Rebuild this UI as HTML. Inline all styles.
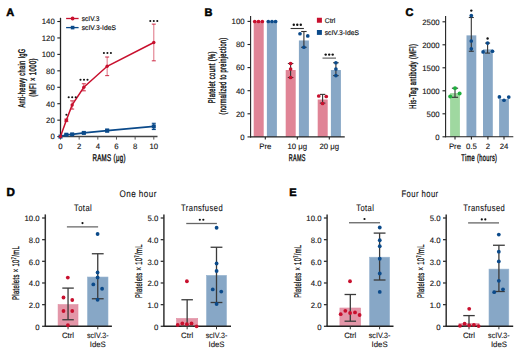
<!DOCTYPE html>
<html><head><meta charset="utf-8"><style>
html,body{margin:0;padding:0;background:#fff;}
body{width:520px;height:354px;overflow:hidden;}
svg{display:block;font-family:"Liberation Sans", sans-serif;text-rendering:geometricPrecision;}
</style></head><body>
<svg width="520" height="354" viewBox="0 0 520 354" xmlns="http://www.w3.org/2000/svg">
<rect x="0" y="0" width="520" height="354" fill="#fff"/>
<text x="6.2" y="15.9" font-size="11" text-anchor="start" font-weight="bold" fill="#000" stroke="#000" stroke-width="0.5">A</text>
<line x1="60.5" y1="17.8" x2="60.5" y2="137.1" stroke="#222" stroke-width="1.3"/>
<line x1="59.8" y1="136.6" x2="157.5" y2="136.6" stroke="#444" stroke-width="1.5"/>
<line x1="57.3" y1="136.6" x2="60.5" y2="136.6" stroke="#222" stroke-width="1.1"/>
<text x="54.8" y="139.4" font-size="7.8" text-anchor="end" font-weight="normal" fill="#111" stroke="#111" stroke-width="0.1">0</text>
<line x1="57.3" y1="120.15799999999999" x2="60.5" y2="120.15799999999999" stroke="#222" stroke-width="1.1"/>
<text x="54.8" y="122.95799999999998" font-size="7.8" text-anchor="end" font-weight="normal" fill="#111" stroke="#111" stroke-width="0.1">20</text>
<line x1="57.3" y1="103.716" x2="60.5" y2="103.716" stroke="#222" stroke-width="1.1"/>
<text x="54.8" y="106.51599999999999" font-size="7.8" text-anchor="end" font-weight="normal" fill="#111" stroke="#111" stroke-width="0.1">40</text>
<line x1="57.3" y1="87.274" x2="60.5" y2="87.274" stroke="#222" stroke-width="1.1"/>
<text x="54.8" y="90.074" font-size="7.8" text-anchor="end" font-weight="normal" fill="#111" stroke="#111" stroke-width="0.1">60</text>
<line x1="57.3" y1="70.832" x2="60.5" y2="70.832" stroke="#222" stroke-width="1.1"/>
<text x="54.8" y="73.63199999999999" font-size="7.8" text-anchor="end" font-weight="normal" fill="#111" stroke="#111" stroke-width="0.1">80</text>
<line x1="57.3" y1="54.389999999999986" x2="60.5" y2="54.389999999999986" stroke="#222" stroke-width="1.1"/>
<text x="54.8" y="57.18999999999998" font-size="7.8" text-anchor="end" font-weight="normal" fill="#111" stroke="#111" stroke-width="0.1">100</text>
<line x1="57.3" y1="37.94799999999999" x2="60.5" y2="37.94799999999999" stroke="#222" stroke-width="1.1"/>
<text x="54.8" y="40.74799999999999" font-size="7.8" text-anchor="end" font-weight="normal" fill="#111" stroke="#111" stroke-width="0.1">120</text>
<line x1="57.3" y1="21.505999999999986" x2="60.5" y2="21.505999999999986" stroke="#222" stroke-width="1.1"/>
<text x="54.8" y="24.305999999999987" font-size="7.8" text-anchor="end" font-weight="normal" fill="#111" stroke="#111" stroke-width="0.1">140</text>
<line x1="60.5" y1="136.6" x2="60.5" y2="139.6" stroke="#555" stroke-width="1.0"/>
<text x="60.5" y="149.3" font-size="7.8" text-anchor="middle" font-weight="normal" fill="#111" stroke="#111" stroke-width="0.1">0</text>
<line x1="79.16" y1="136.6" x2="79.16" y2="139.6" stroke="#555" stroke-width="1.0"/>
<text x="79.16" y="149.3" font-size="7.8" text-anchor="middle" font-weight="normal" fill="#111" stroke="#111" stroke-width="0.1">2</text>
<line x1="97.82" y1="136.6" x2="97.82" y2="139.6" stroke="#555" stroke-width="1.0"/>
<text x="97.82" y="149.3" font-size="7.8" text-anchor="middle" font-weight="normal" fill="#111" stroke="#111" stroke-width="0.1">4</text>
<line x1="116.48" y1="136.6" x2="116.48" y2="139.6" stroke="#555" stroke-width="1.0"/>
<text x="116.48" y="149.3" font-size="7.8" text-anchor="middle" font-weight="normal" fill="#111" stroke="#111" stroke-width="0.1">6</text>
<line x1="135.14" y1="136.6" x2="135.14" y2="139.6" stroke="#555" stroke-width="1.0"/>
<text x="135.14" y="149.3" font-size="7.8" text-anchor="middle" font-weight="normal" fill="#111" stroke="#111" stroke-width="0.1">8</text>
<line x1="153.8" y1="136.6" x2="153.8" y2="139.6" stroke="#555" stroke-width="1.0"/>
<text x="153.8" y="149.3" font-size="7.8" text-anchor="middle" font-weight="normal" fill="#111" stroke="#111" stroke-width="0.1">10</text>
<text transform="translate(24.7,78.0) rotate(-90)" x="0" y="0" font-size="9.7" text-anchor="middle" font-weight="normal" fill="#111" textLength="59.2" lengthAdjust="spacingAndGlyphs" letter-spacing="0.55" stroke="#111" stroke-width="0.4">Anti-heavy chain IgG</text>
<text transform="translate(35.5,77.4) rotate(-90)" x="0" y="0" font-size="9.7" text-anchor="middle" font-weight="normal" fill="#111" textLength="38.7" lengthAdjust="spacingAndGlyphs" letter-spacing="0.55" stroke="#111" stroke-width="0.4">(MFI &#215; 1000)</text>
<text x="109.2" y="160.8" font-size="9.7" text-anchor="middle" font-weight="normal" fill="#111" textLength="33.6" lengthAdjust="spacingAndGlyphs" letter-spacing="0.55" stroke="#111" stroke-width="0.4">RAMS (&#956;g)</text>
<line x1="66.1" y1="18.5" x2="78.6" y2="18.5" stroke="#c8102e" stroke-width="1.3"/>
<circle cx="72.6" cy="18.5" r="1.9" fill="#c8102e"/>
<text x="81.75" y="21.0" font-size="6.8" text-anchor="start" font-weight="normal" fill="#111" textLength="17.75" lengthAdjust="spacingAndGlyphs" stroke="#111" stroke-width="0.15">scIV.3</text>
<line x1="66.1" y1="27.6" x2="78.6" y2="27.6" stroke="#0b4a8a" stroke-width="1.3"/>
<rect x="70.8" y="25.8" width="3.6" height="3.6" fill="#0b4a8a"/>
<text x="81.75" y="30.0" font-size="6.8" text-anchor="start" font-weight="normal" fill="#111" textLength="34.25" lengthAdjust="spacingAndGlyphs" stroke="#111" stroke-width="0.15">scIV.3-IdeS</text>
<polyline fill="none" stroke="#0b4a8a" stroke-width="1.6" points="60.50,136.60 66.33,134.71 72.16,134.38 83.83,132.90 107.15,130.60 153.80,126.41"/>
<rect x="58.5" y="134.6" width="4" height="4" fill="#0b4a8a"/>
<line x1="66.33125" y1="135.36685" x2="66.33125" y2="134.05149" stroke="#0b4a8a" stroke-width="1.3"/>
<line x1="64.33125" y1="134.05149" x2="68.33125" y2="134.05149" stroke="#0b4a8a" stroke-width="1.1"/>
<line x1="64.33125" y1="135.36685" x2="68.33125" y2="135.36685" stroke="#0b4a8a" stroke-width="1.1"/>
<rect x="64.33125" y="132.70917" width="4" height="4" fill="#0b4a8a"/>
<line x1="72.1625" y1="135.03800999999999" x2="72.1625" y2="133.72265" stroke="#0b4a8a" stroke-width="1.3"/>
<line x1="70.1625" y1="133.72265" x2="74.1625" y2="133.72265" stroke="#0b4a8a" stroke-width="1.1"/>
<line x1="70.1625" y1="135.03800999999999" x2="74.1625" y2="135.03800999999999" stroke="#0b4a8a" stroke-width="1.1"/>
<rect x="70.1625" y="132.38033" width="4" height="4" fill="#0b4a8a"/>
<line x1="83.825" y1="133.72265" x2="83.825" y2="132.07845" stroke="#0b4a8a" stroke-width="1.3"/>
<line x1="81.825" y1="132.07845" x2="85.825" y2="132.07845" stroke="#0b4a8a" stroke-width="1.1"/>
<line x1="81.825" y1="133.72265" x2="85.825" y2="133.72265" stroke="#0b4a8a" stroke-width="1.1"/>
<rect x="81.825" y="130.90054999999998" width="4" height="4" fill="#0b4a8a"/>
<line x1="107.15" y1="131.91403" x2="107.15" y2="129.28331" stroke="#0b4a8a" stroke-width="1.3"/>
<line x1="105.15" y1="129.28331" x2="109.15" y2="129.28331" stroke="#0b4a8a" stroke-width="1.1"/>
<line x1="105.15" y1="131.91403" x2="109.15" y2="131.91403" stroke="#0b4a8a" stroke-width="1.1"/>
<rect x="105.15" y="128.59867" width="4" height="4" fill="#0b4a8a"/>
<line x1="153.8" y1="129.52993999999998" x2="153.8" y2="123.28197999999999" stroke="#0b4a8a" stroke-width="1.3"/>
<line x1="151.8" y1="123.28197999999999" x2="155.8" y2="123.28197999999999" stroke="#0b4a8a" stroke-width="1.1"/>
<line x1="151.8" y1="129.52993999999998" x2="155.8" y2="129.52993999999998" stroke="#0b4a8a" stroke-width="1.1"/>
<rect x="151.8" y="124.40596" width="4" height="4" fill="#0b4a8a"/>
<polyline fill="none" stroke="#c8102e" stroke-width="1.5" points="60.50,136.60 66.33,120.32 72.16,104.95 83.83,87.27 107.15,66.31 153.80,42.47"/>
<circle cx="60.5" cy="136.6" r="1.7" fill="#c8102e"/>
<line x1="66.33125" y1="121.55556999999999" x2="66.33125" y2="119.08927" stroke="#c8102e" stroke-width="1.0" stroke-opacity="0.6"/>
<line x1="64.33125" y1="119.08927" x2="68.33125" y2="119.08927" stroke="#c8102e" stroke-width="1.1" stroke-opacity="0.8"/>
<line x1="64.33125" y1="121.55556999999999" x2="68.33125" y2="121.55556999999999" stroke="#c8102e" stroke-width="1.1" stroke-opacity="0.8"/>
<circle cx="66.33125" cy="120.32242" r="1.7" fill="#c8102e"/>
<line x1="72.1625" y1="109.05964999999999" x2="72.1625" y2="100.83865" stroke="#c8102e" stroke-width="1.0" stroke-opacity="0.6"/>
<line x1="70.1625" y1="100.83865" x2="74.1625" y2="100.83865" stroke="#c8102e" stroke-width="1.1" stroke-opacity="0.8"/>
<line x1="70.1625" y1="109.05964999999999" x2="74.1625" y2="109.05964999999999" stroke="#c8102e" stroke-width="1.1" stroke-opacity="0.8"/>
<circle cx="72.1625" cy="104.94914999999999" r="1.7" fill="#c8102e"/>
<line x1="83.825" y1="90.80902999999998" x2="83.825" y2="83.73897" stroke="#c8102e" stroke-width="1.0" stroke-opacity="0.6"/>
<line x1="81.825" y1="83.73897" x2="85.825" y2="83.73897" stroke="#c8102e" stroke-width="1.1" stroke-opacity="0.8"/>
<line x1="81.825" y1="90.80902999999998" x2="85.825" y2="90.80902999999998" stroke="#c8102e" stroke-width="1.1" stroke-opacity="0.8"/>
<circle cx="83.825" cy="87.274" r="1.7" fill="#c8102e"/>
<line x1="107.15" y1="75.60018" x2="107.15" y2="57.02072" stroke="#c8102e" stroke-width="1.0" stroke-opacity="0.6"/>
<line x1="105.15" y1="57.02072" x2="109.15" y2="57.02072" stroke="#c8102e" stroke-width="1.1" stroke-opacity="0.8"/>
<line x1="105.15" y1="75.60018" x2="109.15" y2="75.60018" stroke="#c8102e" stroke-width="1.1" stroke-opacity="0.8"/>
<circle cx="107.15" cy="66.31044999999999" r="1.7" fill="#c8102e"/>
<line x1="153.8" y1="60.802379999999985" x2="153.8" y2="24.136719999999983" stroke="#c8102e" stroke-width="1.0" stroke-opacity="0.6"/>
<line x1="151.8" y1="24.136719999999983" x2="155.8" y2="24.136719999999983" stroke="#c8102e" stroke-width="1.1" stroke-opacity="0.8"/>
<line x1="151.8" y1="60.802379999999985" x2="155.8" y2="60.802379999999985" stroke="#c8102e" stroke-width="1.1" stroke-opacity="0.8"/>
<circle cx="153.8" cy="42.469549999999984" r="1.7" fill="#c8102e"/>
<circle cx="66.40" cy="114.7" r="1.05" fill="#111"/>
<circle cx="68.70" cy="97.25" r="1.05" fill="#111"/>
<circle cx="72.20" cy="97.25" r="1.05" fill="#111"/>
<circle cx="75.70" cy="97.25" r="1.05" fill="#111"/>
<circle cx="80.50" cy="79.75" r="1.05" fill="#111"/>
<circle cx="84.00" cy="79.75" r="1.05" fill="#111"/>
<circle cx="87.50" cy="79.75" r="1.05" fill="#111"/>
<circle cx="103.90" cy="53.0" r="1.05" fill="#111"/>
<circle cx="107.40" cy="53.0" r="1.05" fill="#111"/>
<circle cx="110.90" cy="53.0" r="1.05" fill="#111"/>
<circle cx="150.30" cy="21.0" r="1.05" fill="#111"/>
<circle cx="153.80" cy="21.0" r="1.05" fill="#111"/>
<circle cx="157.30" cy="21.0" r="1.05" fill="#111"/>
<text x="204.6" y="15.6" font-size="11" text-anchor="start" font-weight="bold" fill="#000" stroke="#000" stroke-width="0.5">B</text>
<rect x="253.70000000000002" y="21.400000000000006" width="10" height="115.5" fill="#e08496"/>
<rect x="266.90000000000003" y="21.400000000000006" width="10" height="115.5" fill="#87a7c6"/>
<rect x="285.7" y="70.02550000000001" width="10" height="66.8745" fill="#e08496"/>
<rect x="298.90000000000003" y="40.45750000000001" width="10" height="96.4425" fill="#87a7c6"/>
<rect x="317.7" y="99.47800000000001" width="10" height="37.422" fill="#e08496"/>
<rect x="330.90000000000003" y="70.02550000000001" width="10" height="66.8745" fill="#87a7c6"/>
<line x1="250.6" y1="16.0" x2="250.6" y2="137.4" stroke="#222" stroke-width="1.1"/>
<line x1="250.1" y1="136.9" x2="344.75" y2="136.9" stroke="#222" stroke-width="1.1"/>
<line x1="247.5" y1="136.9" x2="250.6" y2="136.9" stroke="#222" stroke-width="1.1"/>
<text x="244.6" y="139.70000000000002" font-size="7.8" text-anchor="end" font-weight="normal" fill="#111" stroke="#111" stroke-width="0.1">0</text>
<line x1="247.5" y1="113.80000000000001" x2="250.6" y2="113.80000000000001" stroke="#222" stroke-width="1.1"/>
<text x="244.6" y="116.60000000000001" font-size="7.8" text-anchor="end" font-weight="normal" fill="#111" stroke="#111" stroke-width="0.1">20</text>
<line x1="247.5" y1="90.7" x2="250.6" y2="90.7" stroke="#222" stroke-width="1.1"/>
<text x="244.6" y="93.5" font-size="7.8" text-anchor="end" font-weight="normal" fill="#111" stroke="#111" stroke-width="0.1">40</text>
<line x1="247.5" y1="67.60000000000001" x2="250.6" y2="67.60000000000001" stroke="#222" stroke-width="1.1"/>
<text x="244.6" y="70.4" font-size="7.8" text-anchor="end" font-weight="normal" fill="#111" stroke="#111" stroke-width="0.1">60</text>
<line x1="247.5" y1="44.5" x2="250.6" y2="44.5" stroke="#222" stroke-width="1.1"/>
<text x="244.6" y="47.3" font-size="7.8" text-anchor="end" font-weight="normal" fill="#111" stroke="#111" stroke-width="0.1">80</text>
<line x1="247.5" y1="21.400000000000006" x2="250.6" y2="21.400000000000006" stroke="#222" stroke-width="1.1"/>
<text x="244.6" y="24.200000000000006" font-size="7.8" text-anchor="end" font-weight="normal" fill="#111" stroke="#111" stroke-width="0.1">100</text>
<line x1="265.3" y1="136.9" x2="265.3" y2="139.6" stroke="#222" stroke-width="1.1"/>
<text x="265.3" y="149.1" font-size="7.8" text-anchor="middle" font-weight="normal" fill="#111" stroke="#111" stroke-width="0.1">Pre</text>
<line x1="297.3" y1="136.9" x2="297.3" y2="139.6" stroke="#222" stroke-width="1.1"/>
<text x="297.3" y="149.1" font-size="7.8" text-anchor="middle" font-weight="normal" fill="#111" stroke="#111" stroke-width="0.1">10 &#956;g</text>
<line x1="329.3" y1="136.9" x2="329.3" y2="139.6" stroke="#222" stroke-width="1.1"/>
<text x="329.3" y="149.1" font-size="7.8" text-anchor="middle" font-weight="normal" fill="#111" stroke="#111" stroke-width="0.1">20 &#956;g</text>
<text x="297.2" y="160.6" font-size="9.7" text-anchor="middle" font-weight="normal" fill="#111" textLength="16.9" lengthAdjust="spacingAndGlyphs" letter-spacing="0.55" stroke="#111" stroke-width="0.4">RAMS</text>
<text transform="translate(215.0,77.2) rotate(-90)" x="0" y="0" font-size="9.7" text-anchor="middle" font-weight="normal" fill="#111" textLength="52.0" lengthAdjust="spacingAndGlyphs" letter-spacing="0.55" stroke="#111" stroke-width="0.4">Platelet count (%)</text>
<text transform="translate(226.0,76.0) rotate(-90)" x="0" y="0" font-size="9.7" text-anchor="middle" font-weight="normal" fill="#111" textLength="77.0" lengthAdjust="spacingAndGlyphs" letter-spacing="0.55" stroke="#111" stroke-width="0.4">(normalized to preinjection)</text>
<line x1="290.6" y1="63.5" x2="290.6" y2="77.5" stroke="#333" stroke-width="1.1"/>
<line x1="287.85" y1="63.5" x2="293.35" y2="63.5" stroke="#333" stroke-width="1.1"/>
<line x1="287.85" y1="77.5" x2="293.35" y2="77.5" stroke="#333" stroke-width="1.1"/>
<line x1="303.9" y1="31.5" x2="303.9" y2="47.3" stroke="#333" stroke-width="1.1"/>
<line x1="301.15" y1="31.5" x2="306.65" y2="31.5" stroke="#333" stroke-width="1.1"/>
<line x1="301.15" y1="47.3" x2="306.65" y2="47.3" stroke="#333" stroke-width="1.1"/>
<line x1="322.6" y1="94.4" x2="322.6" y2="103.1" stroke="#333" stroke-width="1.1"/>
<line x1="319.85" y1="94.4" x2="325.35" y2="94.4" stroke="#333" stroke-width="1.1"/>
<line x1="319.85" y1="103.1" x2="325.35" y2="103.1" stroke="#333" stroke-width="1.1"/>
<line x1="335.9" y1="62.75" x2="335.9" y2="75.6" stroke="#333" stroke-width="1.1"/>
<line x1="333.15" y1="62.75" x2="338.65" y2="62.75" stroke="#333" stroke-width="1.1"/>
<line x1="333.15" y1="75.6" x2="338.65" y2="75.6" stroke="#333" stroke-width="1.1"/>
<circle cx="254.75" cy="21.5" r="1.85" fill="#c8102e"/>
<circle cx="258.5" cy="21.5" r="1.85" fill="#c8102e"/>
<circle cx="262.3" cy="21.5" r="1.85" fill="#c8102e"/>
<circle cx="268.3" cy="21.5" r="1.85" fill="#0b4a8a"/>
<circle cx="272.0" cy="21.5" r="1.85" fill="#0b4a8a"/>
<circle cx="275.6" cy="21.5" r="1.85" fill="#0b4a8a"/>
<circle cx="290.6" cy="63.5" r="1.85" fill="#c8102e"/>
<circle cx="290.6" cy="69" r="1.85" fill="#c8102e"/>
<circle cx="290.6" cy="77.5" r="1.85" fill="#c8102e"/>
<circle cx="300" cy="33.75" r="1.85" fill="#0b4a8a"/>
<circle cx="307.75" cy="35.9" r="1.85" fill="#0b4a8a"/>
<circle cx="303.9" cy="47.25" r="1.85" fill="#0b4a8a"/>
<circle cx="318.75" cy="96" r="1.85" fill="#c8102e"/>
<circle cx="326.25" cy="96.5" r="1.85" fill="#c8102e"/>
<circle cx="322.6" cy="103.5" r="1.85" fill="#c8102e"/>
<circle cx="335.9" cy="62.75" r="1.85" fill="#0b4a8a"/>
<circle cx="335.9" cy="69" r="1.85" fill="#0b4a8a"/>
<circle cx="335.9" cy="75.6" r="1.85" fill="#0b4a8a"/>
<line x1="290.6" y1="28.5" x2="303.9" y2="28.5" stroke="#333" stroke-width="1.1"/>
<circle cx="293.80" cy="24.75" r="1.2" fill="#111"/>
<circle cx="297.30" cy="24.75" r="1.2" fill="#111"/>
<circle cx="300.80" cy="24.75" r="1.2" fill="#111"/>
<line x1="322.5" y1="58.1" x2="336.0" y2="58.1" stroke="#555" stroke-width="1.1"/>
<circle cx="325.70" cy="54.6" r="1.2" fill="#111"/>
<circle cx="329.20" cy="54.6" r="1.2" fill="#111"/>
<circle cx="332.70" cy="54.6" r="1.2" fill="#111"/>
<rect x="316.9" y="17.75" width="5" height="5" fill="#c8102e"/>
<rect x="316.9" y="30.0" width="5" height="4.9" fill="#0b4a8a"/>
<text x="324.75" y="22.6" font-size="6.8" text-anchor="start" font-weight="normal" fill="#111" stroke="#111" stroke-width="0.15">Ctrl</text>
<text x="324.75" y="34.7" font-size="6.8" text-anchor="start" font-weight="normal" fill="#111" textLength="34.25" lengthAdjust="spacingAndGlyphs" stroke="#111" stroke-width="0.15">scIV.3-IdeS</text>
<text x="405.6" y="15.6" font-size="11" text-anchor="start" font-weight="bold" fill="#000" stroke="#000" stroke-width="0.5">C</text>
<rect x="450.1" y="93.10000000000002" width="9.8" height="43.69999999999999" fill="#9fd8a0"/>
<rect x="466.5" y="35.37000000000002" width="9.8" height="101.42999999999999" fill="#87a7c6"/>
<rect x="483.0" y="49.40000000000002" width="9.8" height="87.39999999999999" fill="#87a7c6"/>
<rect x="499.1" y="98.98800000000001" width="9.8" height="37.812" fill="#87a7c6"/>
<line x1="445.6" y1="16.0" x2="445.6" y2="137.3" stroke="#222" stroke-width="1.1"/>
<line x1="445.1" y1="136.8" x2="513.3" y2="136.8" stroke="#222" stroke-width="1.1"/>
<line x1="442.5" y1="136.8" x2="445.6" y2="136.8" stroke="#222" stroke-width="1.1"/>
<text x="439.6" y="139.8" font-size="7.8" text-anchor="end" font-weight="normal" fill="#111" stroke="#111" stroke-width="0.1">0</text>
<line x1="442.5" y1="113.80000000000001" x2="445.6" y2="113.80000000000001" stroke="#222" stroke-width="1.1"/>
<text x="439.6" y="116.80000000000001" font-size="7.8" text-anchor="end" font-weight="normal" fill="#111" stroke="#111" stroke-width="0.1">500</text>
<line x1="442.5" y1="90.80000000000001" x2="445.6" y2="90.80000000000001" stroke="#222" stroke-width="1.1"/>
<text x="439.6" y="93.80000000000001" font-size="7.8" text-anchor="end" font-weight="normal" fill="#111" stroke="#111" stroke-width="0.1">1000</text>
<line x1="442.5" y1="67.80000000000001" x2="445.6" y2="67.80000000000001" stroke="#222" stroke-width="1.1"/>
<text x="439.6" y="70.80000000000001" font-size="7.8" text-anchor="end" font-weight="normal" fill="#111" stroke="#111" stroke-width="0.1">1500</text>
<line x1="442.5" y1="44.80000000000001" x2="445.6" y2="44.80000000000001" stroke="#222" stroke-width="1.1"/>
<text x="439.6" y="47.80000000000001" font-size="7.8" text-anchor="end" font-weight="normal" fill="#111" stroke="#111" stroke-width="0.1">2000</text>
<line x1="442.5" y1="21.80000000000001" x2="445.6" y2="21.80000000000001" stroke="#222" stroke-width="1.1"/>
<text x="439.6" y="24.80000000000001" font-size="7.8" text-anchor="end" font-weight="normal" fill="#111" stroke="#111" stroke-width="0.1">2500</text>
<line x1="455" y1="136.8" x2="455" y2="139.6" stroke="#222" stroke-width="1.1"/>
<text x="455" y="149.2" font-size="7.8" text-anchor="middle" font-weight="normal" fill="#111" stroke="#111" stroke-width="0.1">Pre</text>
<line x1="471.4" y1="136.8" x2="471.4" y2="139.6" stroke="#222" stroke-width="1.1"/>
<text x="471.4" y="149.2" font-size="7.8" text-anchor="middle" font-weight="normal" fill="#111" stroke="#111" stroke-width="0.1">0.5</text>
<line x1="487.9" y1="136.8" x2="487.9" y2="139.6" stroke="#222" stroke-width="1.1"/>
<text x="487.9" y="149.2" font-size="7.8" text-anchor="middle" font-weight="normal" fill="#111" stroke="#111" stroke-width="0.1">2</text>
<line x1="504" y1="136.8" x2="504" y2="139.6" stroke="#222" stroke-width="1.1"/>
<text x="504" y="149.2" font-size="7.8" text-anchor="middle" font-weight="normal" fill="#111" stroke="#111" stroke-width="0.1">24</text>
<text x="479.3" y="160.6" font-size="9.7" text-anchor="middle" font-weight="normal" fill="#111" textLength="36" lengthAdjust="spacingAndGlyphs" letter-spacing="0.55" stroke="#111" stroke-width="0.4">Time (hours)</text>
<text transform="translate(415.8,76.3) rotate(-90)" x="0" y="0" font-size="9.7" text-anchor="middle" font-weight="normal" fill="#111" textLength="65.0" lengthAdjust="spacingAndGlyphs" letter-spacing="0.55" stroke="#111" stroke-width="0.4">His-Tag antibody (MFI)</text>
<line x1="455" y1="88.2" x2="455" y2="97.3" stroke="#333" stroke-width="1.1"/>
<line x1="451.9" y1="88.2" x2="458.1" y2="88.2" stroke="#333" stroke-width="1.1"/>
<line x1="451.9" y1="97.3" x2="458.1" y2="97.3" stroke="#333" stroke-width="1.1"/>
<line x1="471.3" y1="17.5" x2="471.3" y2="51.25" stroke="#333" stroke-width="1.1"/>
<line x1="468.8" y1="17.5" x2="473.8" y2="17.5" stroke="#333" stroke-width="1.1"/>
<line x1="468.8" y1="51.25" x2="473.8" y2="51.25" stroke="#333" stroke-width="1.1"/>
<line x1="487.6" y1="43.1" x2="487.6" y2="53.1" stroke="#333" stroke-width="1.1"/>
<line x1="485.1" y1="43.1" x2="490.1" y2="43.1" stroke="#333" stroke-width="1.1"/>
<line x1="485.1" y1="53.1" x2="490.1" y2="53.1" stroke="#333" stroke-width="1.1"/>
<circle cx="455" cy="88.2" r="2.0" fill="#1fae3e"/>
<circle cx="450.2" cy="96.4" r="2.0" fill="#1fae3e"/>
<circle cx="459.6" cy="93.6" r="2.0" fill="#1fae3e"/>
<circle cx="471.3" cy="15.6" r="1.85" fill="#0b4a8a"/>
<circle cx="471.3" cy="41" r="1.85" fill="#0b4a8a"/>
<circle cx="471.3" cy="48.75" r="1.85" fill="#0b4a8a"/>
<circle cx="487.6" cy="43.1" r="1.85" fill="#0b4a8a"/>
<circle cx="483.1" cy="51.9" r="1.85" fill="#0b4a8a"/>
<circle cx="492.5" cy="51.25" r="1.85" fill="#0b4a8a"/>
<circle cx="499.4" cy="96.9" r="1.85" fill="#0b4a8a"/>
<circle cx="504" cy="100.25" r="1.85" fill="#0b4a8a"/>
<circle cx="508.75" cy="97.1" r="1.85" fill="#0b4a8a"/>
<circle cx="471.30" cy="10.6" r="1.2" fill="#111"/>
<circle cx="487.60" cy="38.5" r="1.2" fill="#111"/>
<text x="6.5" y="196.1" font-size="11.6" text-anchor="start" font-weight="bold" fill="#000" stroke="#000" stroke-width="0.5">D</text>
<text x="138.2" y="196.5" font-size="9.6" text-anchor="middle" font-weight="normal" fill="#111" textLength="37.3" lengthAdjust="spacingAndGlyphs" letter-spacing="0.55" stroke="#111" stroke-width="0.12">One hour</text>
<text x="289.2" y="196.1" font-size="11" text-anchor="start" font-weight="bold" fill="#000" stroke="#000" stroke-width="0.5">E</text>
<text x="420.0" y="196.5" font-size="9.6" text-anchor="middle" font-weight="normal" fill="#111" textLength="37.2" lengthAdjust="spacingAndGlyphs" letter-spacing="0.55" stroke="#111" stroke-width="0.12">Four hour</text>
<rect x="58.1" y="304.64" width="19.9" height="21.660000000000025" fill="#e396a8" stroke="#e08aa0" stroke-width="0.6"/>
<rect x="87.5" y="277.0235" width="20.5" height="49.2765" fill="#87a7c6" stroke="#95b2cf" stroke-width="0.6"/>
<line x1="45.3" y1="214.4" x2="45.3" y2="327.0" stroke="#333" stroke-width="1.5"/>
<line x1="44.599999999999994" y1="326.3" x2="111.9" y2="326.3" stroke="#222" stroke-width="1.5"/>
<line x1="42.099999999999994" y1="326.3" x2="45.3" y2="326.3" stroke="#333" stroke-width="1.3"/>
<text x="39.699999999999996" y="329.6" font-size="7.8" text-anchor="end" font-weight="normal" fill="#111" stroke="#111" stroke-width="0.1">0</text>
<line x1="42.099999999999994" y1="304.64" x2="45.3" y2="304.64" stroke="#333" stroke-width="1.3"/>
<text x="39.699999999999996" y="307.94" font-size="7.8" text-anchor="end" font-weight="normal" fill="#111" stroke="#111" stroke-width="0.1">2.0</text>
<line x1="42.099999999999994" y1="282.98" x2="45.3" y2="282.98" stroke="#333" stroke-width="1.3"/>
<text x="39.699999999999996" y="286.28000000000003" font-size="7.8" text-anchor="end" font-weight="normal" fill="#111" stroke="#111" stroke-width="0.1">4.0</text>
<line x1="42.099999999999994" y1="261.32" x2="45.3" y2="261.32" stroke="#333" stroke-width="1.3"/>
<text x="39.699999999999996" y="264.62" font-size="7.8" text-anchor="end" font-weight="normal" fill="#111" stroke="#111" stroke-width="0.1">6.0</text>
<line x1="42.099999999999994" y1="239.66000000000003" x2="45.3" y2="239.66000000000003" stroke="#333" stroke-width="1.3"/>
<text x="39.699999999999996" y="242.96000000000004" font-size="7.8" text-anchor="end" font-weight="normal" fill="#111" stroke="#111" stroke-width="0.1">8.0</text>
<line x1="42.099999999999994" y1="218.0" x2="45.3" y2="218.0" stroke="#333" stroke-width="1.3"/>
<text x="39.699999999999996" y="221.3" font-size="7.8" text-anchor="end" font-weight="normal" fill="#111" stroke="#111" stroke-width="0.1">10.0</text>
<line x1="68.05" y1="326.3" x2="68.05" y2="329.3" stroke="#333" stroke-width="1.0"/>
<line x1="97.75" y1="326.3" x2="97.75" y2="329.3" stroke="#333" stroke-width="1.0"/>
<text x="68.05" y="337.5" font-size="7.8" text-anchor="middle" font-weight="normal" fill="#111" stroke="#111" stroke-width="0.1">Ctrl</text>
<text x="97.75" y="337.5" font-size="7.8" text-anchor="middle" font-weight="normal" fill="#111" textLength="21.6" lengthAdjust="spacingAndGlyphs" stroke="#111" stroke-width="0.1">scIV.3-</text>
<text x="97.75" y="347.2" font-size="7.8" text-anchor="middle" font-weight="normal" fill="#111" stroke="#111" stroke-width="0.1">IdeS</text>
<line x1="68.05" y1="288.1" x2="68.05" y2="319.75" stroke="#3a3a3a" stroke-width="1.3"/>
<line x1="62.3" y1="288.1" x2="73.8" y2="288.1" stroke="#3a3a3a" stroke-width="1.3"/>
<line x1="62.3" y1="319.75" x2="73.8" y2="319.75" stroke="#3a3a3a" stroke-width="1.3"/>
<line x1="97.75" y1="253.75" x2="97.75" y2="298.75" stroke="#3a3a3a" stroke-width="1.3"/>
<line x1="91.85" y1="253.75" x2="103.65" y2="253.75" stroke="#3a3a3a" stroke-width="1.3"/>
<line x1="91.85" y1="298.75" x2="103.65" y2="298.75" stroke="#3a3a3a" stroke-width="1.3"/>
<circle cx="67.8" cy="277.6" r="1.9" fill="#c8102e"/>
<circle cx="63.5" cy="297.5" r="1.9" fill="#c8102e"/>
<circle cx="72.25" cy="300" r="1.9" fill="#c8102e"/>
<circle cx="63.5" cy="311" r="1.9" fill="#c8102e"/>
<circle cx="72.25" cy="311" r="1.9" fill="#c8102e"/>
<circle cx="67.9" cy="325.25" r="1.9" fill="#c8102e"/>
<circle cx="97.6" cy="234" r="1.9" fill="#0b4a8a"/>
<circle cx="97.6" cy="272.5" r="1.9" fill="#0b4a8a"/>
<circle cx="97.6" cy="277.5" r="1.9" fill="#0b4a8a"/>
<circle cx="93.3" cy="284.4" r="1.9" fill="#0b4a8a"/>
<circle cx="102.1" cy="288.75" r="1.9" fill="#0b4a8a"/>
<circle cx="97.6" cy="299.75" r="1.9" fill="#0b4a8a"/>
<line x1="66.9" y1="226.9" x2="98.1" y2="226.9" stroke="#666" stroke-width="1.3"/>
<circle cx="82.50" cy="223.1" r="1.1" fill="#111"/>
<text x="83.1" y="211.0" font-size="9.4" text-anchor="middle" font-weight="normal" fill="#111" textLength="18.25" lengthAdjust="spacingAndGlyphs" letter-spacing="0.55" stroke="#111" stroke-width="0.12">Total</text>
<text transform="translate(19.0,272.9) rotate(-90)" x="0" y="0" font-size="9.7" text-anchor="middle" font-weight="normal" fill="#111" textLength="54.2" lengthAdjust="spacingAndGlyphs" letter-spacing="0.55" stroke="#111" stroke-width="0.3">Platelets &#215; 10<tspan font-size="6.6" dy="-3.2">7</tspan><tspan dy="3.2">/mL</tspan></text>
<rect x="176.6" y="318.5024" width="21.099999999999994" height="7.7975999999999885" fill="#e396a8" stroke="#e08aa0" stroke-width="0.6"/>
<rect x="206.5" y="275.399" width="20.0" height="50.90100000000001" fill="#87a7c6" stroke="#95b2cf" stroke-width="0.6"/>
<line x1="163.9" y1="214.4" x2="163.9" y2="327.0" stroke="#333" stroke-width="1.5"/>
<line x1="163.20000000000002" y1="326.3" x2="231.0" y2="326.3" stroke="#222" stroke-width="1.5"/>
<line x1="160.70000000000002" y1="326.3" x2="163.9" y2="326.3" stroke="#333" stroke-width="1.3"/>
<text x="158.3" y="329.6" font-size="7.8" text-anchor="end" font-weight="normal" fill="#111" stroke="#111" stroke-width="0.1">0</text>
<line x1="160.70000000000002" y1="304.64" x2="163.9" y2="304.64" stroke="#333" stroke-width="1.3"/>
<text x="158.3" y="307.94" font-size="7.8" text-anchor="end" font-weight="normal" fill="#111" stroke="#111" stroke-width="0.1">1.0</text>
<line x1="160.70000000000002" y1="282.98" x2="163.9" y2="282.98" stroke="#333" stroke-width="1.3"/>
<text x="158.3" y="286.28000000000003" font-size="7.8" text-anchor="end" font-weight="normal" fill="#111" stroke="#111" stroke-width="0.1">2.0</text>
<line x1="160.70000000000002" y1="261.32" x2="163.9" y2="261.32" stroke="#333" stroke-width="1.3"/>
<text x="158.3" y="264.62" font-size="7.8" text-anchor="end" font-weight="normal" fill="#111" stroke="#111" stroke-width="0.1">3.0</text>
<line x1="160.70000000000002" y1="239.66000000000003" x2="163.9" y2="239.66000000000003" stroke="#333" stroke-width="1.3"/>
<text x="158.3" y="242.96000000000004" font-size="7.8" text-anchor="end" font-weight="normal" fill="#111" stroke="#111" stroke-width="0.1">4.0</text>
<line x1="160.70000000000002" y1="218.0" x2="163.9" y2="218.0" stroke="#333" stroke-width="1.3"/>
<text x="158.3" y="221.3" font-size="7.8" text-anchor="end" font-weight="normal" fill="#111" stroke="#111" stroke-width="0.1">5.0</text>
<line x1="187.14999999999998" y1="326.3" x2="187.14999999999998" y2="329.3" stroke="#333" stroke-width="1.0"/>
<line x1="216.5" y1="326.3" x2="216.5" y2="329.3" stroke="#333" stroke-width="1.0"/>
<text x="187.14999999999998" y="337.5" font-size="7.8" text-anchor="middle" font-weight="normal" fill="#111" stroke="#111" stroke-width="0.1">Ctrl</text>
<text x="216.5" y="337.5" font-size="7.8" text-anchor="middle" font-weight="normal" fill="#111" textLength="21.6" lengthAdjust="spacingAndGlyphs" stroke="#111" stroke-width="0.1">scIV.3-</text>
<text x="216.5" y="347.2" font-size="7.8" text-anchor="middle" font-weight="normal" fill="#111" stroke="#111" stroke-width="0.1">IdeS</text>
<line x1="187.14999999999998" y1="299.75" x2="187.14999999999998" y2="326.3" stroke="#3a3a3a" stroke-width="1.3"/>
<line x1="181.39999999999998" y1="299.75" x2="192.89999999999998" y2="299.75" stroke="#3a3a3a" stroke-width="1.3"/>
<line x1="181.39999999999998" y1="326.3" x2="192.89999999999998" y2="326.3" stroke="#3a3a3a" stroke-width="1.3"/>
<line x1="216.5" y1="247.25" x2="216.5" y2="302.5" stroke="#3a3a3a" stroke-width="1.3"/>
<line x1="210.6" y1="247.25" x2="222.4" y2="247.25" stroke="#3a3a3a" stroke-width="1.3"/>
<line x1="210.6" y1="302.5" x2="222.4" y2="302.5" stroke="#3a3a3a" stroke-width="1.3"/>
<circle cx="177.7" cy="324.9" r="1.9" fill="#c8102e"/>
<circle cx="182.3" cy="323.4" r="1.9" fill="#c8102e"/>
<circle cx="186.9" cy="324.2" r="1.9" fill="#c8102e"/>
<circle cx="191.5" cy="323.4" r="1.9" fill="#c8102e"/>
<circle cx="196.6" cy="326.3" r="1.9" fill="#c8102e"/>
<circle cx="186.9" cy="281.25" r="1.9" fill="#c8102e"/>
<circle cx="216.6" cy="227.75" r="1.9" fill="#0b4a8a"/>
<circle cx="216.6" cy="263.5" r="1.9" fill="#0b4a8a"/>
<circle cx="216.6" cy="271" r="1.9" fill="#0b4a8a"/>
<circle cx="212.75" cy="289.4" r="1.9" fill="#0b4a8a"/>
<circle cx="221.25" cy="291.6" r="1.9" fill="#0b4a8a"/>
<circle cx="216.6" cy="304" r="1.9" fill="#0b4a8a"/>
<line x1="186.25" y1="223.5" x2="216.9" y2="223.5" stroke="#666" stroke-width="1.3"/>
<circle cx="199.82" cy="219.75" r="1.1" fill="#111"/>
<circle cx="203.32" cy="219.75" r="1.1" fill="#111"/>
<text x="202.05" y="211.0" font-size="9.4" text-anchor="middle" font-weight="normal" fill="#111" textLength="42.1" lengthAdjust="spacingAndGlyphs" letter-spacing="0.55" stroke="#111" stroke-width="0.12">Transfused</text>
<text transform="translate(141.8,271.1) rotate(-90)" x="0" y="0" font-size="9.7" text-anchor="middle" font-weight="normal" fill="#111" textLength="53.7" lengthAdjust="spacingAndGlyphs" letter-spacing="0.55" stroke="#111" stroke-width="0.3">Platelets &#215; 10<tspan font-size="6.6" dy="-3.2">7</tspan><tspan dy="3.2">/mL</tspan></text>
<rect x="339.9" y="307.9973" width="20.80000000000001" height="18.302700000000016" fill="#e396a8" stroke="#e08aa0" stroke-width="0.6"/>
<rect x="369.6" y="257.2046" width="20.0" height="69.09539999999998" fill="#87a7c6" stroke="#95b2cf" stroke-width="0.6"/>
<line x1="327.1" y1="214.4" x2="327.1" y2="327.0" stroke="#333" stroke-width="1.5"/>
<line x1="326.40000000000003" y1="326.3" x2="393.5" y2="326.3" stroke="#222" stroke-width="1.5"/>
<line x1="323.90000000000003" y1="326.3" x2="327.1" y2="326.3" stroke="#333" stroke-width="1.3"/>
<text x="321.5" y="329.6" font-size="7.8" text-anchor="end" font-weight="normal" fill="#111" stroke="#111" stroke-width="0.1">0</text>
<line x1="323.90000000000003" y1="304.64" x2="327.1" y2="304.64" stroke="#333" stroke-width="1.3"/>
<text x="321.5" y="307.94" font-size="7.8" text-anchor="end" font-weight="normal" fill="#111" stroke="#111" stroke-width="0.1">2.0</text>
<line x1="323.90000000000003" y1="282.98" x2="327.1" y2="282.98" stroke="#333" stroke-width="1.3"/>
<text x="321.5" y="286.28000000000003" font-size="7.8" text-anchor="end" font-weight="normal" fill="#111" stroke="#111" stroke-width="0.1">4.0</text>
<line x1="323.90000000000003" y1="261.32" x2="327.1" y2="261.32" stroke="#333" stroke-width="1.3"/>
<text x="321.5" y="264.62" font-size="7.8" text-anchor="end" font-weight="normal" fill="#111" stroke="#111" stroke-width="0.1">6.0</text>
<line x1="323.90000000000003" y1="239.66000000000003" x2="327.1" y2="239.66000000000003" stroke="#333" stroke-width="1.3"/>
<text x="321.5" y="242.96000000000004" font-size="7.8" text-anchor="end" font-weight="normal" fill="#111" stroke="#111" stroke-width="0.1">8.0</text>
<line x1="323.90000000000003" y1="218.0" x2="327.1" y2="218.0" stroke="#333" stroke-width="1.3"/>
<text x="321.5" y="221.3" font-size="7.8" text-anchor="end" font-weight="normal" fill="#111" stroke="#111" stroke-width="0.1">10.0</text>
<line x1="350.29999999999995" y1="326.3" x2="350.29999999999995" y2="329.3" stroke="#333" stroke-width="1.0"/>
<line x1="379.6" y1="326.3" x2="379.6" y2="329.3" stroke="#333" stroke-width="1.0"/>
<text x="350.29999999999995" y="337.5" font-size="7.8" text-anchor="middle" font-weight="normal" fill="#111" stroke="#111" stroke-width="0.1">Ctrl</text>
<text x="379.6" y="337.5" font-size="7.8" text-anchor="middle" font-weight="normal" fill="#111" textLength="21.6" lengthAdjust="spacingAndGlyphs" stroke="#111" stroke-width="0.1">scIV.3-</text>
<text x="379.6" y="347.2" font-size="7.8" text-anchor="middle" font-weight="normal" fill="#111" stroke="#111" stroke-width="0.1">IdeS</text>
<line x1="350.29999999999995" y1="294.5" x2="350.29999999999995" y2="321.2" stroke="#3a3a3a" stroke-width="1.3"/>
<line x1="344.54999999999995" y1="294.5" x2="356.04999999999995" y2="294.5" stroke="#3a3a3a" stroke-width="1.3"/>
<line x1="344.54999999999995" y1="321.2" x2="356.04999999999995" y2="321.2" stroke="#3a3a3a" stroke-width="1.3"/>
<line x1="379.6" y1="233.1" x2="379.6" y2="280" stroke="#3a3a3a" stroke-width="1.3"/>
<line x1="373.70000000000005" y1="233.1" x2="385.5" y2="233.1" stroke="#3a3a3a" stroke-width="1.3"/>
<line x1="373.70000000000005" y1="280" x2="385.5" y2="280" stroke="#3a3a3a" stroke-width="1.3"/>
<circle cx="340.7" cy="314.2" r="1.9" fill="#c8102e"/>
<circle cx="345.3" cy="310.8" r="1.9" fill="#c8102e"/>
<circle cx="350.1" cy="313" r="1.9" fill="#c8102e"/>
<circle cx="355" cy="312.4" r="1.9" fill="#c8102e"/>
<circle cx="359.6" cy="315" r="1.9" fill="#c8102e"/>
<circle cx="350" cy="281.25" r="1.9" fill="#c8102e"/>
<circle cx="379.75" cy="227.5" r="1.9" fill="#0b4a8a"/>
<circle cx="379.75" cy="240.25" r="1.9" fill="#0b4a8a"/>
<circle cx="379.75" cy="246.25" r="1.9" fill="#0b4a8a"/>
<circle cx="379.75" cy="258.75" r="1.9" fill="#0b4a8a"/>
<circle cx="379.75" cy="273.5" r="1.9" fill="#0b4a8a"/>
<circle cx="379.75" cy="291.9" r="1.9" fill="#0b4a8a"/>
<line x1="349.0" y1="222.75" x2="380.0" y2="222.75" stroke="#666" stroke-width="1.3"/>
<circle cx="364.50" cy="219.0" r="1.1" fill="#111"/>
<text x="365.3" y="211.0" font-size="9.4" text-anchor="middle" font-weight="normal" fill="#111" textLength="18.15" lengthAdjust="spacingAndGlyphs" letter-spacing="0.55" stroke="#111" stroke-width="0.12">Total</text>
<text transform="translate(301.2,271.2) rotate(-90)" x="0" y="0" font-size="9.7" text-anchor="middle" font-weight="normal" fill="#111" textLength="53.3" lengthAdjust="spacingAndGlyphs" letter-spacing="0.55" stroke="#111" stroke-width="0.3">Platelets &#215; 10<tspan font-size="6.6" dy="-3.2">7</tspan><tspan dy="3.2">/mL</tspan></text>
<rect x="459.0" y="323.4842" width="20.0" height="2.8158000000000243" fill="#e396a8" stroke="#e08aa0" stroke-width="0.6"/>
<rect x="489.0" y="269.11760000000004" width="19.80000000000001" height="57.18239999999997" fill="#87a7c6" stroke="#95b2cf" stroke-width="0.6"/>
<line x1="446.2" y1="214.4" x2="446.2" y2="327.0" stroke="#333" stroke-width="1.5"/>
<line x1="445.5" y1="326.3" x2="513.2" y2="326.3" stroke="#222" stroke-width="1.5"/>
<line x1="443.0" y1="326.3" x2="446.2" y2="326.3" stroke="#333" stroke-width="1.3"/>
<text x="440.59999999999997" y="329.6" font-size="7.8" text-anchor="end" font-weight="normal" fill="#111" stroke="#111" stroke-width="0.1">0</text>
<line x1="443.0" y1="304.64" x2="446.2" y2="304.64" stroke="#333" stroke-width="1.3"/>
<text x="440.59999999999997" y="307.94" font-size="7.8" text-anchor="end" font-weight="normal" fill="#111" stroke="#111" stroke-width="0.1">1.0</text>
<line x1="443.0" y1="282.98" x2="446.2" y2="282.98" stroke="#333" stroke-width="1.3"/>
<text x="440.59999999999997" y="286.28000000000003" font-size="7.8" text-anchor="end" font-weight="normal" fill="#111" stroke="#111" stroke-width="0.1">2.0</text>
<line x1="443.0" y1="261.32" x2="446.2" y2="261.32" stroke="#333" stroke-width="1.3"/>
<text x="440.59999999999997" y="264.62" font-size="7.8" text-anchor="end" font-weight="normal" fill="#111" stroke="#111" stroke-width="0.1">3.0</text>
<line x1="443.0" y1="239.66000000000003" x2="446.2" y2="239.66000000000003" stroke="#333" stroke-width="1.3"/>
<text x="440.59999999999997" y="242.96000000000004" font-size="7.8" text-anchor="end" font-weight="normal" fill="#111" stroke="#111" stroke-width="0.1">4.0</text>
<line x1="443.0" y1="218.0" x2="446.2" y2="218.0" stroke="#333" stroke-width="1.3"/>
<text x="440.59999999999997" y="221.3" font-size="7.8" text-anchor="end" font-weight="normal" fill="#111" stroke="#111" stroke-width="0.1">5.0</text>
<line x1="469.0" y1="326.3" x2="469.0" y2="329.3" stroke="#333" stroke-width="1.0"/>
<line x1="498.9" y1="326.3" x2="498.9" y2="329.3" stroke="#333" stroke-width="1.0"/>
<text x="469.0" y="337.5" font-size="7.8" text-anchor="middle" font-weight="normal" fill="#111" stroke="#111" stroke-width="0.1">Ctrl</text>
<text x="498.9" y="337.5" font-size="7.8" text-anchor="middle" font-weight="normal" fill="#111" textLength="21.6" lengthAdjust="spacingAndGlyphs" stroke="#111" stroke-width="0.1">scIV.3-</text>
<text x="498.9" y="347.2" font-size="7.8" text-anchor="middle" font-weight="normal" fill="#111" stroke="#111" stroke-width="0.1">IdeS</text>
<line x1="469.0" y1="315.6" x2="469.0" y2="326.3" stroke="#3a3a3a" stroke-width="1.3"/>
<line x1="463.25" y1="315.6" x2="474.75" y2="315.6" stroke="#3a3a3a" stroke-width="1.3"/>
<line x1="463.25" y1="326.3" x2="474.75" y2="326.3" stroke="#3a3a3a" stroke-width="1.3"/>
<line x1="498.9" y1="245.25" x2="498.9" y2="291.5" stroke="#3a3a3a" stroke-width="1.3"/>
<line x1="493.0" y1="245.25" x2="504.79999999999995" y2="245.25" stroke="#3a3a3a" stroke-width="1.3"/>
<line x1="493.0" y1="291.5" x2="504.79999999999995" y2="291.5" stroke="#3a3a3a" stroke-width="1.3"/>
<circle cx="460" cy="325.8" r="1.9" fill="#c8102e"/>
<circle cx="464.6" cy="323.7" r="1.9" fill="#c8102e"/>
<circle cx="469.2" cy="325.4" r="1.9" fill="#c8102e"/>
<circle cx="473.9" cy="324.9" r="1.9" fill="#c8102e"/>
<circle cx="478.6" cy="326.1" r="1.9" fill="#c8102e"/>
<circle cx="469.2" cy="308.8" r="1.9" fill="#c8102e"/>
<circle cx="498.8" cy="234.6" r="1.9" fill="#0b4a8a"/>
<circle cx="498.8" cy="251.7" r="1.9" fill="#0b4a8a"/>
<circle cx="498.8" cy="261.4" r="1.9" fill="#0b4a8a"/>
<circle cx="498.8" cy="280.8" r="1.9" fill="#0b4a8a"/>
<circle cx="494.2" cy="292.2" r="1.9" fill="#0b4a8a"/>
<circle cx="503" cy="289.3" r="1.9" fill="#0b4a8a"/>
<line x1="468.1" y1="222.9" x2="499.0" y2="222.9" stroke="#666" stroke-width="1.3"/>
<circle cx="481.80" cy="219.4" r="1.1" fill="#111"/>
<circle cx="485.30" cy="219.4" r="1.1" fill="#111"/>
<text x="484.2" y="211.0" font-size="9.4" text-anchor="middle" font-weight="normal" fill="#111" textLength="42.1" lengthAdjust="spacingAndGlyphs" letter-spacing="0.55" stroke="#111" stroke-width="0.12">Transfused</text>
<text transform="translate(423.8,271.1) rotate(-90)" x="0" y="0" font-size="9.7" text-anchor="middle" font-weight="normal" fill="#111" textLength="53.7" lengthAdjust="spacingAndGlyphs" letter-spacing="0.55" stroke="#111" stroke-width="0.3">Platelets &#215; 10<tspan font-size="6.6" dy="-3.2">7</tspan><tspan dy="3.2">/mL</tspan></text>
</svg>
</body></html>
